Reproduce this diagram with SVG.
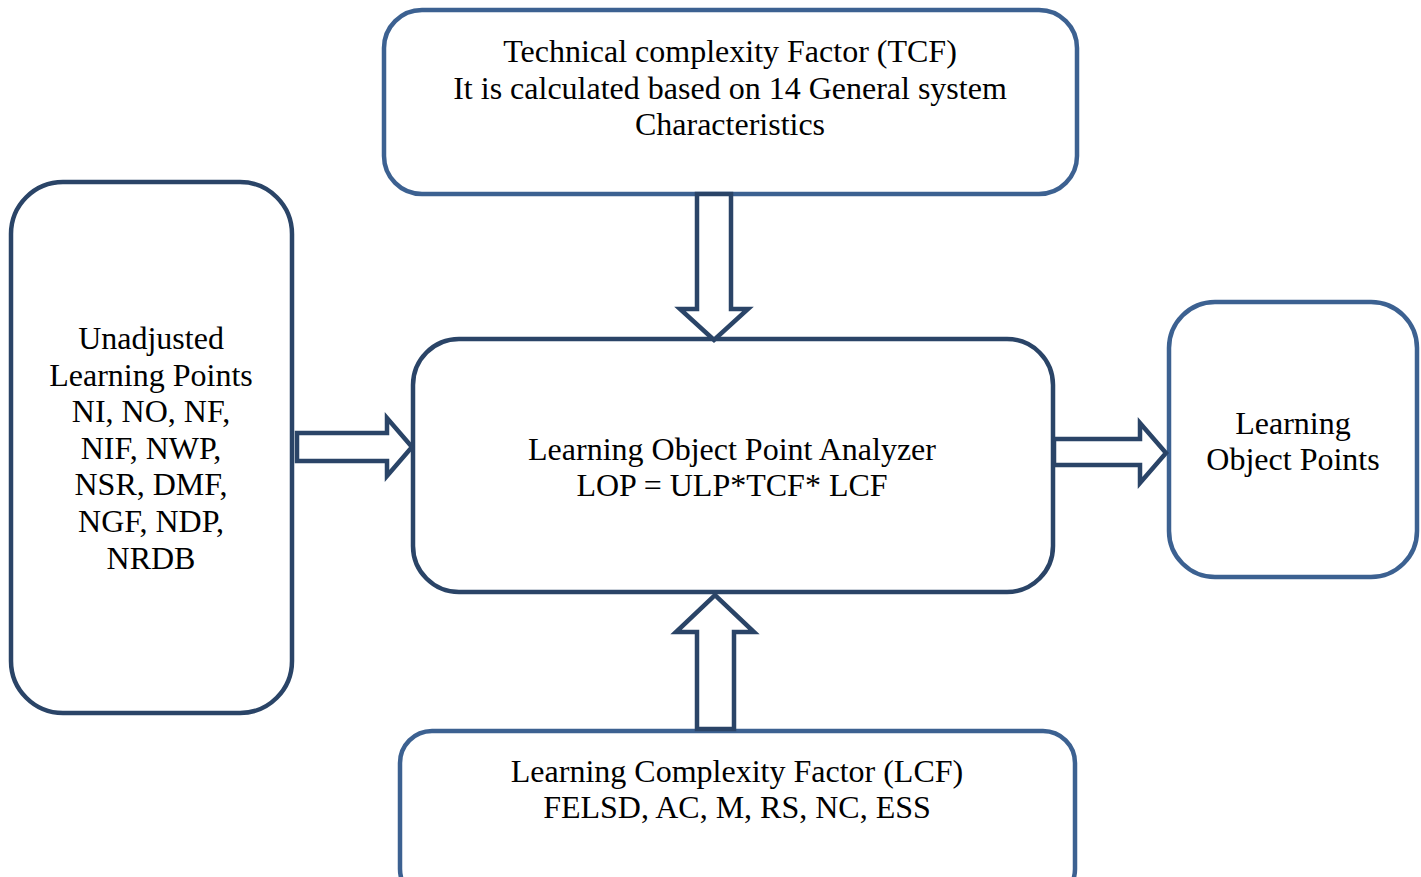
<svg xmlns="http://www.w3.org/2000/svg" width="1421" height="877" viewBox="0 0 1421 877">
<style>
.dark{fill:#fff;stroke:#2a4467;stroke-width:4.5}
.light{fill:#fff;stroke:#3c6191;stroke-width:4.5}
.arrow{fill:#fff;stroke:#2a4467;stroke-width:4.5;stroke-linejoin:miter}
text{font-family:"Liberation Serif","Times New Roman",serif;font-size:32px;fill:#000;text-anchor:middle}
</style>
<rect width="1421" height="877" fill="#fff"/>
<g id="tcf">
<rect class="light" x="384" y="10" width="693" height="184" rx="38"/>
<text x="730" y="62">Technical complexity Factor (TCF)</text>
<text x="730" y="99">It is calculated based on 14 General system</text>
<text x="730" y="135">Characteristics</text>
</g>
<g id="ulp">
<rect class="dark" x="11" y="182" width="281" height="531" rx="52"/>
<text x="151" y="349">Unadjusted</text>
<text x="151" y="386">Learning Points</text>
<text x="151" y="422">NI, NO, NF,</text>
<text x="151" y="459">NIF, NWP,</text>
<text x="151" y="495">NSR, DMF,</text>
<text x="151" y="532">NGF, NDP,</text>
<text x="151" y="569">NRDB</text>
</g>
<g id="lopa">
<rect class="dark" x="413" y="339" width="640" height="253" rx="46"/>
<text x="732" y="460">Learning Object Point Analyzer</text>
<text x="732" y="496">LOP = ULP*TCF* LCF</text>
</g>
<g id="lop">
<rect class="light" x="1169" y="302" width="248" height="275" rx="46"/>
<text x="1293" y="434">Learning</text>
<text x="1293" y="470">Object Points</text>
</g>
<g id="lcf">
<rect class="light" x="400" y="731" width="675" height="170" rx="32"/>
<text x="737" y="782">Learning Complexity Factor (LCF)</text>
<text x="737" y="818">FELSD, AC, M, RS, NC, ESS</text>
</g>
<g id="connectors">
<polygon class="arrow" points="697,194 731,194 731,309 748,309 714,340 680,309 697,309"/>
<polygon class="arrow" points="697,729 734,729 734,632 754,632 715,595 676,632 697,632"/>
<polygon class="arrow" points="297,433 387,433 387,418 412,447 387,476 387,461 297,461"/>
<polygon class="arrow" points="1054,439 1140,439 1140,423 1166,453 1140,483 1140,465 1054,465"/>
</g>
</svg>
